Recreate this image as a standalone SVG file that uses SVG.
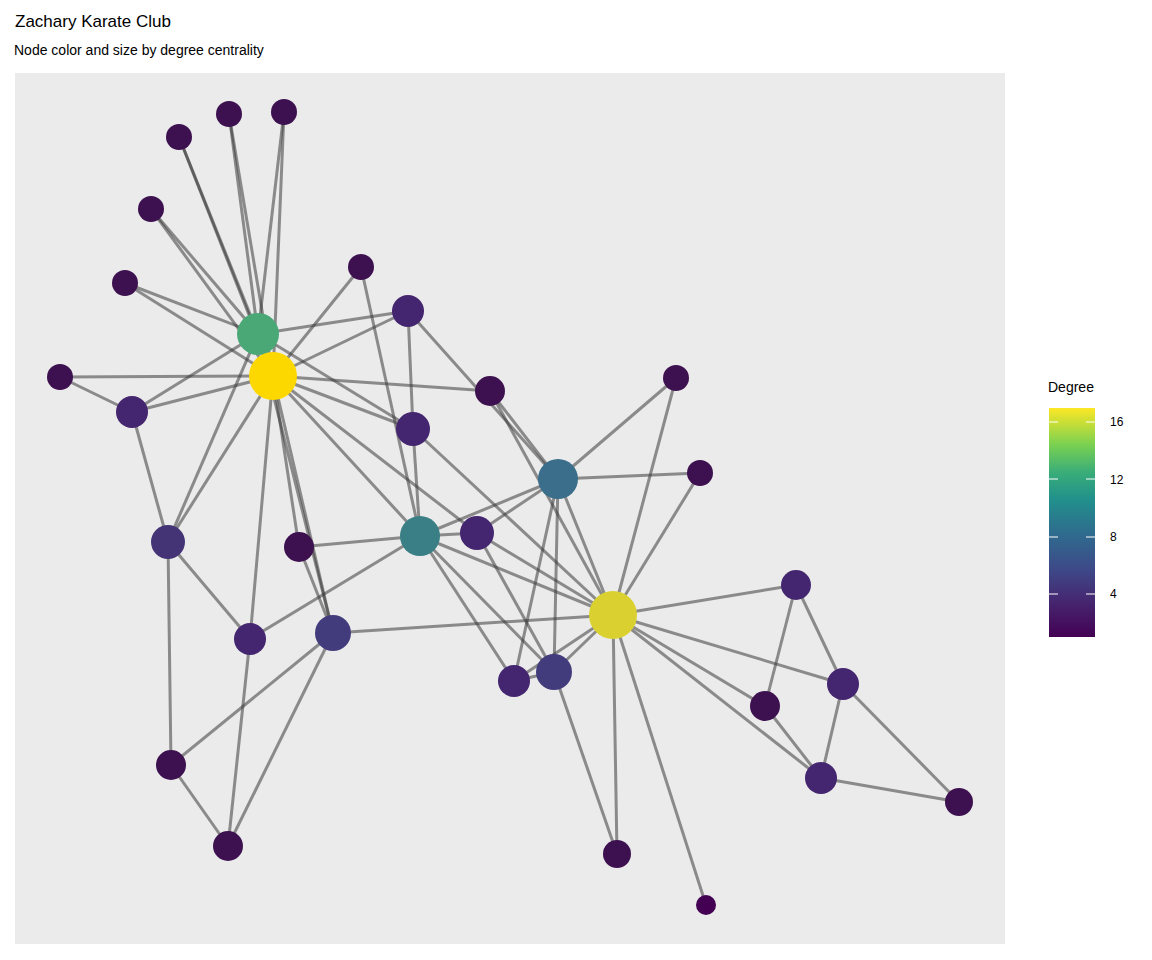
<svg xmlns="http://www.w3.org/2000/svg" width="1152" height="960" viewBox="0 0 1152 960">
<defs>
<linearGradient id="vir" x1="0" y1="1" x2="0" y2="0">
<stop offset="0" stop-color="#440154"/><stop offset="0.15" stop-color="#46256f"/><stop offset="0.3" stop-color="#3d4a89"/><stop offset="0.45" stop-color="#2f6b8e"/><stop offset="0.6" stop-color="#21908c"/><stop offset="0.72" stop-color="#3aad78"/><stop offset="0.84" stop-color="#7ad151"/><stop offset="1" stop-color="#fde725"/>
</linearGradient>
<style>
text{font-family:"Liberation Sans",Arial,sans-serif;fill:#000}
.e line{stroke:#3a3a3a;stroke-opacity:0.55;stroke-width:3}
.d1{fill:#3d114f}.d2{fill:#44256f}.d3{fill:#423c7c}
.tk{stroke:#fff;stroke-width:1}
</style>
</defs>
<rect width="1152" height="960" fill="#fff"/>
<text x="15" y="27" font-size="17">Zachary Karate Club</text>
<text x="14" y="55" font-size="14">Node color and size by degree centrality</text>
<rect x="15" y="73" width="990" height="871" fill="#ebebeb"/>
<g class="e" id="edges">
<line x1="229" y1="114" x2="258" y2="334"/><line x1="229" y1="114" x2="273" y2="376"/>
<line x1="284" y1="112" x2="258" y2="334"/><line x1="284" y1="112" x2="273" y2="376"/>
<line x1="179" y1="137" x2="258" y2="334"/><line x1="179" y1="137" x2="273" y2="376"/>
<line x1="151" y1="209" x2="258" y2="334"/><line x1="151" y1="209" x2="273" y2="376"/>
<line x1="125" y1="283" x2="258" y2="334"/><line x1="125" y1="283" x2="273" y2="376"/>
<line x1="361" y1="267" x2="273" y2="376"/><line x1="361" y1="267" x2="420" y2="536"/>
<line x1="258" y1="334" x2="273" y2="376"/>
<line x1="408" y1="311" x2="258" y2="334"/><line x1="408" y1="311" x2="273" y2="376"/>
<line x1="408" y1="311" x2="413" y2="429"/><line x1="408" y1="311" x2="558" y2="479"/>
<line x1="60" y1="377" x2="273" y2="376"/><line x1="60" y1="377" x2="132" y2="412"/>
<line x1="132" y1="412" x2="258" y2="334"/><line x1="132" y1="412" x2="273" y2="376"/><line x1="132" y1="412" x2="168" y2="542"/>
<line x1="273" y1="376" x2="490" y2="391"/>
<line x1="258" y1="334" x2="413" y2="429"/><line x1="273" y1="376" x2="413" y2="429"/>
<line x1="258" y1="334" x2="168" y2="542"/><line x1="273" y1="376" x2="168" y2="542"/>
<line x1="273" y1="376" x2="250" y2="639"/><line x1="273" y1="376" x2="299" y2="547"/>
<line x1="258" y1="334" x2="333" y2="633"/><line x1="273" y1="376" x2="333" y2="633"/>
<line x1="273" y1="376" x2="420" y2="536"/><line x1="273" y1="376" x2="477" y2="533"/>
<line x1="413" y1="429" x2="613" y2="615"/><line x1="413" y1="429" x2="420" y2="536"/>
<line x1="490" y1="391" x2="558" y2="479"/><line x1="490" y1="391" x2="613" y2="615"/>
<line x1="299" y1="547" x2="420" y2="536"/><line x1="299" y1="547" x2="333" y2="633"/>
<line x1="420" y1="536" x2="250" y2="639"/><line x1="420" y1="536" x2="558" y2="479"/><line x1="420" y1="536" x2="477" y2="533"/>
<line x1="420" y1="536" x2="613" y2="615"/><line x1="420" y1="536" x2="554" y2="672"/><line x1="420" y1="536" x2="514" y2="681"/>
<line x1="477" y1="533" x2="558" y2="479"/><line x1="477" y1="533" x2="613" y2="615"/><line x1="477" y1="533" x2="554" y2="672"/>
<line x1="558" y1="479" x2="676" y2="378"/><line x1="558" y1="479" x2="700" y2="473"/><line x1="558" y1="479" x2="613" y2="615"/>
<line x1="558" y1="479" x2="554" y2="672"/><line x1="558" y1="479" x2="514" y2="681"/>
<line x1="676" y1="378" x2="613" y2="615"/><line x1="700" y1="473" x2="613" y2="615"/>
<line x1="168" y1="542" x2="250" y2="639"/><line x1="168" y1="542" x2="171" y2="765"/>
<line x1="333" y1="633" x2="613" y2="615"/><line x1="333" y1="633" x2="171" y2="765"/><line x1="333" y1="633" x2="228" y2="846"/>
<line x1="250" y1="639" x2="228" y2="846"/><line x1="171" y1="765" x2="228" y2="846"/>
<line x1="554" y1="672" x2="613" y2="615"/><line x1="514" y1="681" x2="613" y2="615"/><line x1="514" y1="681" x2="554" y2="672"/>
<line x1="554" y1="672" x2="617" y2="854"/>
<line x1="613" y1="615" x2="617" y2="854"/><line x1="613" y1="615" x2="706" y2="905"/>
<line x1="613" y1="615" x2="796" y2="585"/><line x1="613" y1="615" x2="843" y2="684"/><line x1="613" y1="615" x2="765" y2="706"/><line x1="613" y1="615" x2="821" y2="778"/>
<line x1="796" y1="585" x2="765" y2="706"/><line x1="796" y1="585" x2="843" y2="684"/>
<line x1="843" y1="684" x2="821" y2="778"/><line x1="843" y1="684" x2="959" y2="802"/>
<line x1="765" y1="706" x2="821" y2="778"/><line x1="821" y1="778" x2="959" y2="802"/>
</g>
<g id="nodes">
<g id="n1"><circle class="d1" cx="229" cy="114" r="13"/></g>
<g id="n2"><circle class="d1" cx="284" cy="112" r="13"/></g>
<g id="n3"><circle class="d1" cx="179" cy="137" r="13"/></g>
<g id="n4"><circle class="d1" cx="151" cy="209" r="13"/></g>
<g id="n5"><circle class="d1" cx="361" cy="267" r="13"/></g>
<g id="n6"><circle class="d1" cx="125" cy="283" r="13"/></g>
<g id="n7"><circle fill="#4aa877" cx="258" cy="334" r="21"/></g>
<g id="n8"><circle fill="#fdd800" cx="273" cy="376" r="24"/></g>
<g id="n9"><circle class="d1" cx="60" cy="377" r="13"/></g>
<g id="n10"><circle class="d2" cx="408" cy="311" r="16"/></g>
<g id="n11"><circle class="d1" cx="490" cy="391" r="15"/></g>
<g id="n12"><circle class="d2" cx="132" cy="412" r="16"/></g>
<g id="n13"><circle class="d2" cx="413" cy="429" r="17"/></g>
<g id="n14"><circle class="d1" cx="676" cy="378" r="13"/></g>
<g id="n15"><circle fill="#3a6e8a" cx="558" cy="479" r="20"/></g>
<g id="n16"><circle class="d1" cx="700" cy="473" r="13"/></g>
<g id="n17"><circle fill="#443476" cx="168" cy="542" r="17"/></g>
<g id="n18"><circle class="d1" cx="299" cy="547" r="15"/></g>
<g id="n19"><circle fill="#3a7f86" cx="420" cy="536" r="20"/></g>
<g id="n20"><circle class="d2" cx="477" cy="533" r="17"/></g>
<g id="n21"><circle fill="#dad131" cx="613" cy="615" r="24"/></g>
<g id="n22"><circle class="d2" cx="796" cy="585" r="15"/></g>
<g id="n23"><circle class="d2" cx="250" cy="639" r="16"/></g>
<g id="n24"><circle class="d3" cx="333" cy="633" r="18"/></g>
<g id="n25"><circle class="d3" cx="554" cy="672" r="18"/></g>
<g id="n26"><circle class="d2" cx="514" cy="681" r="16"/></g>
<g id="n27"><circle class="d1" cx="765" cy="706" r="15"/></g>
<g id="n28"><circle class="d2" cx="843" cy="684" r="16"/></g>
<g id="n29"><circle class="d1" cx="171" cy="765" r="15"/></g>
<g id="n30"><circle class="d2" cx="821" cy="778" r="16"/></g>
<g id="n31"><circle class="d1" cx="228" cy="846" r="15"/></g>
<g id="n32"><circle class="d1" cx="959" cy="802" r="14"/></g>
<g id="n33"><circle class="d1" cx="617" cy="854" r="14"/></g>
<g id="n34"><circle fill="#440154" cx="706" cy="905" r="10"/></g>
</g>
<g id="legend">
<text x="1048" y="392" font-size="14">Degree</text>
<rect x="1049" y="408" width="46" height="229" fill="url(#vir)"/>
<g class="tk">
<line x1="1049" y1="422" x2="1058" y2="422"/><line x1="1086" y1="422" x2="1095" y2="422"/>
<line x1="1049" y1="479" x2="1058" y2="479"/><line x1="1086" y1="479" x2="1095" y2="479"/>
<line x1="1049" y1="537" x2="1058" y2="537"/><line x1="1086" y1="537" x2="1095" y2="537"/>
<line x1="1049" y1="594" x2="1058" y2="594"/><line x1="1086" y1="594" x2="1095" y2="594"/>
</g>
<text x="1110" y="426" font-size="12">16</text>
<text x="1110" y="484" font-size="12">12</text>
<text x="1110" y="541" font-size="12">8</text>
<text x="1110" y="598" font-size="12">4</text>
</g>
</svg>
